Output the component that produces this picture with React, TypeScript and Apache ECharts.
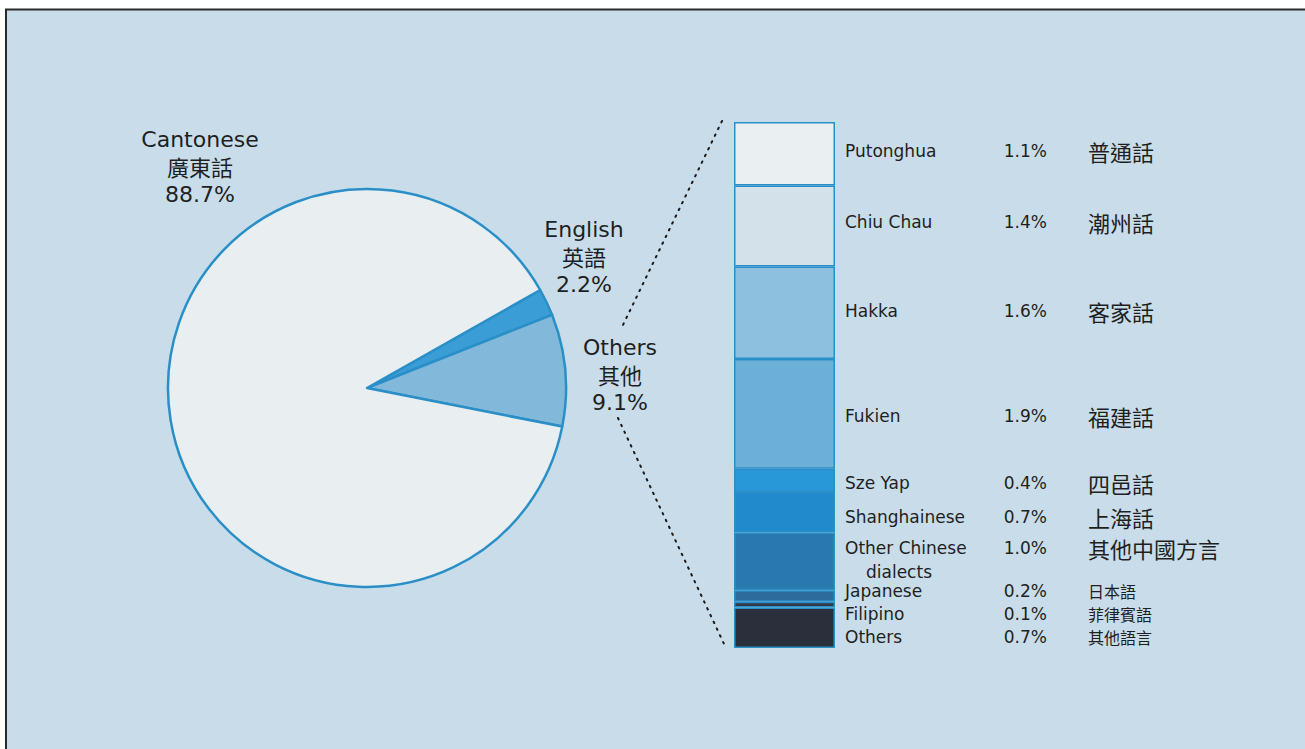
import React, { useEffect, useRef } from "react";
import * as echarts from "echarts";

// ---- data ----
const pieNames = ["English", "Others", "Cantonese"];
const pieNamesZh = ["英語", "其他", "廣東話"];
const pieValues = [2.2, 9.1, 88.7];

const barNames = [
  "Putonghua",
  "Chiu Chau",
  "Hakka",
  "Fukien",
  "Sze Yap",
  "Shanghainese",
  "Other Chinese",
  "Japanese",
  "Filipino",
  "Others",
];
const barNamesZh = [
  "普通話",
  "潮州話",
  "客家話",
  "福建話",
  "四邑話",
  "上海話",
  "其他中國方言",
  "日本語",
  "菲律賓語",
  "其他語言",
];
const barValues = [1.1, 1.4, 1.6, 1.9, 0.4, 0.7, 1.0, 0.2, 0.1, 0.7];

// ---- styles / layout ----
const BG = "#c8dce9";
const EDGE = "#2b8fc7";
const TEXT = "#1f1f1f";
const LATIN = '"DejaVu Sans", "Liberation Sans", sans-serif';
const CJK = '"Noto Sans CJK TC", "Noto Sans CJK SC", sans-serif';
const pieColors = ["#3a9dd5", "#82b9db", "#e9eef1"];
const barColors = [
  "#eaeff2",
  "#d3e1ea",
  "#8cc0de",
  "#6cb0d8",
  "#2898d8",
  "#1f8bcd",
  "#2a79ae",
  "#2c6b9c",
  "#313846",
  "#2b2f3c",
];
// label anchor positions (text layout only)
const pieLabelPos = [
  { x: 584, y: 229 },
  { x: 620, y: 347 },
  { x: 200, y: 139 },
];
const pieLineOffsets = [0, 27, 55];
const barLabelY = [151, 222, 311, 416, 483, 517, 548, 591, 614, 637];

export default function App() {
  const ref = useRef<HTMLDivElement>(null);
  useEffect(() => {
    if (!ref.current) return;
    const chart = echarts.init(ref.current, undefined, { renderer: "svg" });

    const graphics: any[] = [
      {
        type: "rect",
        z: -10,
        shape: { x: 6, y: 9.5, width: 1320, height: 760 },
        style: { fill: BG, stroke: "#2a2a2a", lineWidth: 2 },
      },
      {
        type: "line",
        z: 5,
        shape: { x1: 722, y1: 121, x2: 622, y2: 327 },
        style: { stroke: "#1a1a1a", lineWidth: 2, lineDash: [1.5, 6], lineCap: "round" },
      },
      {
        type: "line",
        z: 5,
        shape: { x1: 618, y1: 418, x2: 725, y2: 646 },
        style: { stroke: "#1a1a1a", lineWidth: 2, lineDash: [1.5, 6], lineCap: "round" },
      },
    ];

    pieNames.forEach((n, i) => {
      const p = pieLabelPos[i];
      const lines = [
        { t: n, f: LATIN, s: 22 },
        { t: pieNamesZh[i], f: CJK, s: 22 },
        { t: pieValues[i].toFixed(1) + "%", f: LATIN, s: 22 },
      ];
      lines.forEach((l, k) => {
        graphics.push({
          type: "text",
          z: 10,
          x: p.x,
          y: p.y + pieLineOffsets[k],
          style: {
            text: l.t,
            fill: TEXT,
            font: `${l.s}px ${l.f}`,
            lineHeight: l.s,
            textAlign: "center",
            textVerticalAlign: "middle",
          },
        });
      });
    });

    barNames.forEach((n, i) => {
      const y = barLabelY[i];
      const tight = i >= 7;
      const isOther = n === "Other Chinese";
      graphics.push({
        type: "text",
        z: 10,
        x: 845,
        y,
        style: { text: n, fill: TEXT, font: `17px ${LATIN}`, lineHeight: 17, textVerticalAlign: "middle" },
      });
      if (isOther) {
        graphics.push({
          type: "text",
          z: 10,
          x: 866,
          y: y + 24,
          style: { text: "dialects", fill: TEXT, font: `17px ${LATIN}`, lineHeight: 17, textVerticalAlign: "middle" },
        });
      }
      graphics.push({
        type: "text",
        z: 10,
        x: 1047,
        y,
        style: {
          text: barValues[i].toFixed(1) + "%",
          fill: TEXT,
          font: `17px ${LATIN}`,
          lineHeight: 17,
          textAlign: "right",
          textVerticalAlign: "middle",
        },
      });
      const cs = tight ? 16 : 22;
      graphics.push({
        type: "text",
        z: 10,
        x: 1088,
        y,
        style: {
          text: barNamesZh[i],
          fill: TEXT,
          font: `${cs}px ${CJK}`,
          lineHeight: cs,
          textVerticalAlign: "middle",
        },
      });
    });

    const barSeries = barNames.map((n, i) => ({
      name: n,
      type: "bar",
      stack: "others",
      barWidth: "100%",
      silent: true,
      itemStyle: { color: barColors[i], borderColor: EDGE, borderWidth: 1.5 },
      data: [barValues[i]],
    }));

    chart.setOption({
      animation: false,
      backgroundColor: "#ffffff",
      grid: { left: 734, top: 122, width: 101, height: 526 },
      xAxis: { type: "category", data: [""], show: false },
      yAxis: { type: "value", min: 0, max: 9.1, inverse: true, show: false },
      graphic: { elements: graphics },
      series: [
        {
          type: "pie",
          center: [367, 388],
          radius: 199,
          startAngle: 29.5,
          clockwise: true,
          silent: true,
          label: { show: false },
          labelLine: { show: false },
          itemStyle: { borderColor: EDGE, borderWidth: 2.5 },
          data: pieNames.map((n, i) => ({
            name: n,
            value: pieValues[i],
            itemStyle: { color: pieColors[i] },
          })),
        },
        ...barSeries,
      ],
    });
    return () => chart.dispose();
  }, []);
  return (
    <div
      ref={ref}
      style={{ position: "absolute", left: 0, top: 0, width: 1305, height: 749 }}
    />
  );
}
